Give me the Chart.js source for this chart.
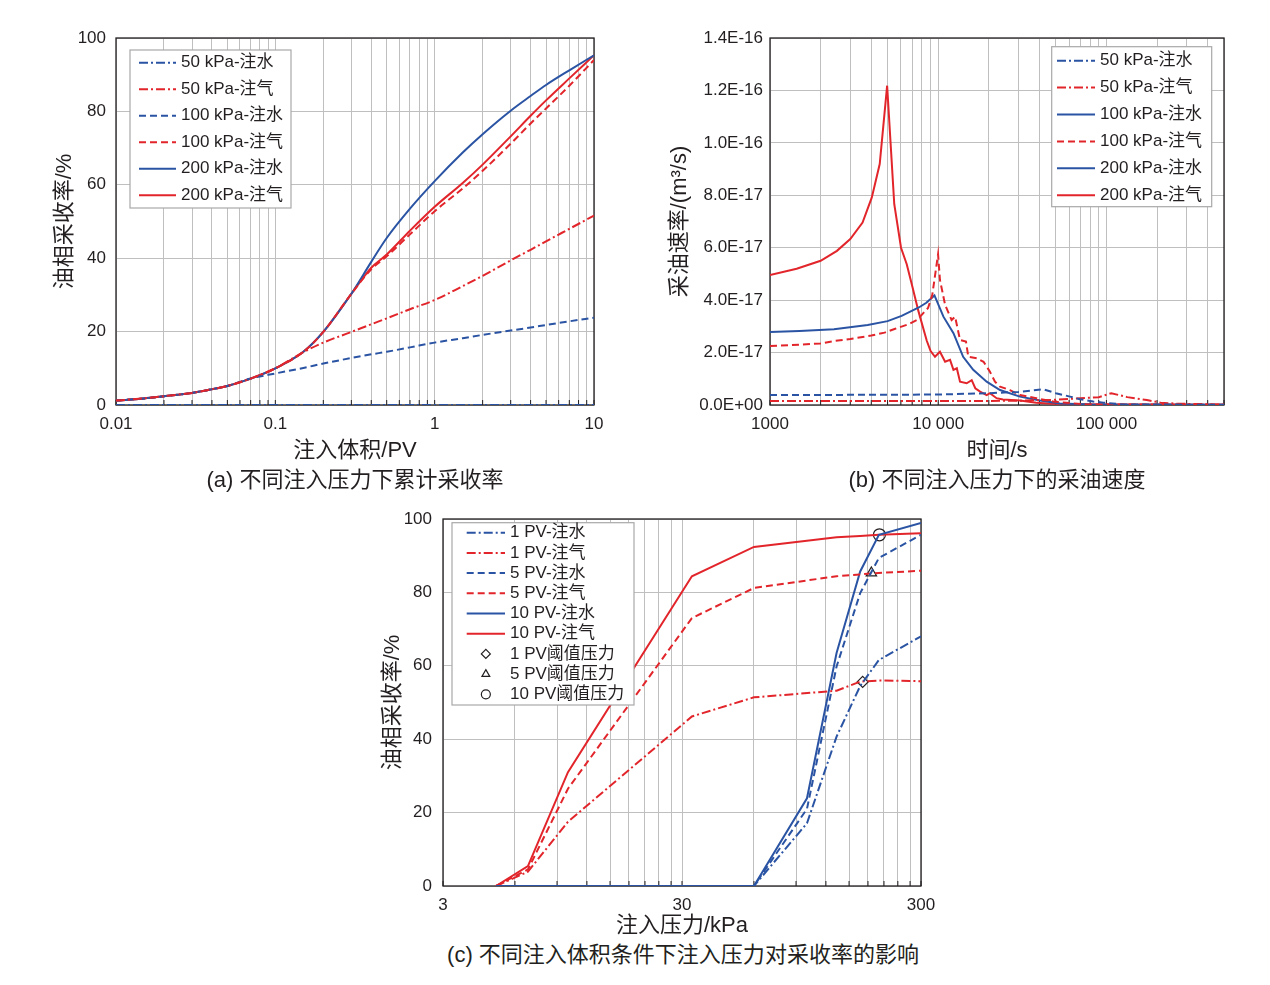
<!DOCTYPE html>
<html><head><meta charset="utf-8">
<script src="https://cdn.jsdelivr.net/npm/chart.js@4.4.1/dist/chart.umd.min.js"></script>
<style>
html,body{margin:0;padding:0;background:#fff;width:1270px;height:985px;overflow:hidden;position:relative;}
canvas{position:absolute;}
.cap{position:absolute;font-family:'Liberation Sans','Noto Sans CJK SC',sans-serif;font-size:22px;line-height:26px;color:#231f20;white-space:nowrap;transform:translateX(-50%);}
</style></head><body>
<canvas id="ca" width="640" height="470" style="left:0;top:0;width:640px;height:470px"></canvas>
<canvas id="cb" width="630" height="470" style="left:640px;top:0;width:630px;height:470px"></canvas>
<canvas id="cc" width="640" height="460" style="left:330px;top:480px;width:640px;height:460px"></canvas>
<div class="cap" style="left:355px;top:467px">(a) 不同注入压力下累计采收率</div>
<div class="cap" style="left:997px;top:467px">(b) 不同注入压力下的采油速度</div>
<div class="cap" style="left:683px;top:942px">(c) 不同注入体积条件下注入压力对采收率的影响</div>
<script>
// ---------- (a) cumulative recovery vs injected volume ----------
const pvA = [0.01, 0.015, 0.02, 0.03, 0.04, 0.05, 0.07, 0.1, 0.15, 0.2, 0.3, 0.4, 0.5, 0.7, 1, 1.5, 2, 3, 4, 5, 7, 10];
const recA_w50 = [0, 0, 0, 0, 0, 0, 0, 0, 0, 0, 0, 0, 0, 0, 0, 0, 0, 0, 0, 0, 0, 0];
const recA_g50 = [1.2, 1.8, 2.4, 3.3, 4.3, 5.2, 7.2, 10.0, 14.4, 17.0, 19.9, 22.0, 23.6, 26.1, 28.6, 32.4, 35.2, 39.4, 42.3, 44.6, 48.0, 51.6];
const recA_w100 = [1.2, 1.8, 2.4, 3.3, 4.3, 5.2, 7.2, 8.6, 10.1, 11.3, 12.8, 13.8, 14.5, 15.7, 17.0, 18.2, 19.1, 20.3, 21.1, 21.8, 22.8, 23.8];
const recA_g100 = [1.2, 1.8, 2.4, 3.3, 4.3, 5.2, 7.2, 10.0, 14.5, 19.9, 30.3, 37.0, 40.5, 46.5, 52.8, 59.0, 63.8, 71.2, 76.7, 80.8, 87.0, 94.0];
const recA_w200 = [1.2, 1.8, 2.4, 3.3, 4.3, 5.2, 7.2, 10.0, 14.5, 19.9, 30.3, 39.0, 45.5, 53.5, 61.0, 68.8, 73.8, 80.2, 84.2, 87.2, 91.2, 95.3];
const recA_g200 = [1.2, 1.8, 2.4, 3.3, 4.3, 5.2, 7.2, 10.0, 14.5, 19.9, 30.3, 37.4, 41.0, 47.5, 54.0, 60.5, 65.5, 73.2, 78.8, 83.0, 89.0, 95.3];
const decadesA = [0.01, 0.1, 1];
const tickValsA = [0.01, 0.1, 1, 10];
const tickTextA = ['0.01', '0.1', '1', '10'];
const yTicksA = [0, 20, 40, 60, 80, 100];

// ---------- (b) oil production rate vs time (values in 1E-17 m3/s) ----------
const RATE_UNIT = 1e-17;
const tB_w50 = [1000, 5000, 10000, 20000, 30000, 42200, 50000, 60700, 69600, 83500, 96000, 125000, 500000];
const rB_w50 = [0.38, 0.39, 0.40, 0.45, 0.50, 0.60, 0.45, 0.32, 0.22, 0.13, 0.09, 0.02, 0.01];
const tB_g50 = [1000, 10000, 30000, 50000, 70000, 90000, 107000, 133000, 174000, 210000, 260000, 500000];
const rB_g50 = [0.15, 0.15, 0.16, 0.20, 0.26, 0.30, 0.45, 0.30, 0.19, 0.09, 0.05, 0.02];
const tB_w100 = [];
const rB_w100 = [];
const tB_g100 = [1000, 1500, 2000, 2400, 3000, 4000, 4800, 5500, 6650, 7500, 8030, 8700, 9220, 9980, 10240, 10990, 12010, 12600, 13480, 14620, 15100, 17000, 18600, 20300, 21750, 23300, 26700, 30600, 38300, 48300, 76000, 500000];
const rB_g100 = [2.25, 2.30, 2.35, 2.44, 2.52, 2.65, 2.76, 2.90, 3.08, 3.25, 3.46, 3.70, 4.20, 5.75, 4.77, 3.82, 3.24, 3.37, 2.48, 2.42, 1.84, 1.78, 1.65, 1.27, 0.89, 0.70, 0.57, 0.38, 0.26, 0.13, 0.02, 0.01];
const tB_w200 = [1000, 1500, 2400, 3810, 5000, 6060, 7670, 8500, 9500, 10740, 12320, 14070, 16150, 19410, 23300, 30600, 40300, 52900, 82000, 500000];
const rB_w200 = [2.78, 2.82, 2.89, 3.05, 3.20, 3.40, 3.72, 3.90, 4.18, 3.37, 2.74, 1.84, 1.34, 0.89, 0.57, 0.32, 0.17, 0.06, 0.02, 0.01];
const tB_g200 = [1000, 1440, 2000, 2500, 3000, 3550, 4030, 4490, 4970, 5480, 6010, 6500, 6970, 7620, 8550, 9010, 9570, 10240, 10990, 11760, 12320, 12900, 13480, 14760, 15820, 16610, 17740, 19410, 20300, 22210, 24250, 30600, 38300, 48000, 70000, 150000, 500000];
const rB_g200 = [4.96, 5.20, 5.50, 5.88, 6.33, 6.96, 7.92, 9.19, 12.18, 7.66, 6.00, 5.37, 4.60, 3.59, 2.45, 2.06, 1.84, 2.03, 1.65, 1.72, 1.34, 1.40, 0.89, 0.83, 0.95, 0.64, 0.51, 0.38, 0.45, 0.26, 0.21, 0.17, 0.09, 0.05, 0.03, 0.02, 0.01];
const decadesB = [1000, 10000, 100000];
const tickValsB = [1000, 10000, 100000];
const tickTextB = ['1000', '10 000', '100 000'];
const yTicksB = [0, 2e-17, 4e-17, 6e-17, 8e-17, 1e-16, 1.2e-16, 1.4e-16];

// ---------- (c) recovery vs injection pressure ----------
const pC_gas = [5, 6.8, 10, 33, 60, 133, 167, 200, 300];
const recC_g1 = [0, 3.9, 17.5, 46.2, 51.4, 53.2, 55.7, 56.0, 55.8];
const recC_g5 = [0, 4.5, 26.5, 73.0, 81.2, 84.4, 84.9, 85.3, 85.9];
const recC_g10 = [0, 5.4, 31.0, 84.4, 92.4, 95.0, 95.4, 95.7, 96.1];
const pC_water = [5, 60, 100, 133, 167, 200, 300];
const recC_w1 = [0, 0, 17.1, 40.7, 54.5, 61.6, 68.0];
const recC_w5 = [0, 0, 21.0, 59.8, 79.8, 89.4, 95.7];
const recC_w10 = [0, 0, 23.9, 63.5, 85.7, 95.7, 98.9];
const thrC_p1 = [171], thrC_r1 = [55.6];
const thrC_p5 = [186], thrC_r5 = [85.3];
const thrC_p10 = [201], thrC_r10 = [95.7];
const decadesC = [3, 30];
const tickValsC = [3, 30, 300];
const tickTextC = ['3', '30', '300'];
const yTicksC = [0, 20, 40, 60, 80, 100];

// ---------- styling ----------
const FONT = "'Liberation Sans','Noto Sans CJK SC','Noto Sans',sans-serif";
const TXT = '#231f20';
const GRID = '#bfbfbf';
const BLUE = '#2a54a3';
const RED = '#e2252b';
const SOLID = [];
const DASH = [7, 4];
const DASHDOT = [9, 3, 2, 3];

const pts = (xs, ys, k) => xs.map((x, i) => ({x: x, y: ys[i] * (k || 1)}));

function logGrid(decades, max) {
  const g = [];
  decades.forEach(d => { for (let k = 1; k <= 9; k++) { if (k * d <= max * (1 + 1e-9)) g.push(k * d); } });
  if (!g.includes(max)) g.push(max);
  return g;
}

function logAxis(min, max, decades, vals, texts, title, o) {
  const lab = new Map(vals.map((v, i) => [v, texts[i]]));
  const grid = logGrid(decades, max);
  return {
    type: 'logarithmic', min: min, max: max,
    afterBuildTicks: ax => { ax.ticks = grid.map(v => ({value: v})); },
    afterFit: ax => { ax.height = o.h; },
    ticks: {autoSkip: false, maxRotation: 0, minRotation: 0, padding: o.pad, color: TXT,
      font: {family: FONT, size: 17}, callback: v => (lab.has(v) ? lab.get(v) : '')},
    grid: {color: GRID, lineWidth: 1, drawTicks: false},
    border: {display: false},
    title: {display: true, text: title, color: TXT, font: {family: FONT, size: 22}, padding: {top: 0, bottom: o.tpb}}
  };
}

function linAxis(min, max, vals, fmt, title, o) {
  return {
    type: 'linear', min: min, max: max,
    afterBuildTicks: ax => { ax.ticks = vals.map(v => ({value: v})); },
    afterFit: ax => { ax.width = o.w; },
    ticks: {padding: o.pad, color: TXT, font: {family: FONT, size: 17}, callback: fmt},
    grid: {color: GRID, lineWidth: 1, drawTicks: false},
    border: {display: false},
    title: {display: true, text: title, color: TXT, font: {family: FONT, size: 22}, padding: {top: o.tpt, bottom: 0}}
  };
}

function sci(v) {
  if (v === 0) return '0.0E+00';
  const e = Math.floor(Math.log10(v) + 1e-9);
  const m = v / Math.pow(10, e);
  return m.toFixed(1) + 'E' + (e < 0 ? '-' : '+') + String(Math.abs(e)).padStart(2, '0');
}

const framePlugin = {
  id: 'frame',
  beforeDatasetsDraw(chart) {
    const ctx = chart.ctx, a = chart.chartArea, sx = chart.scales.x;
    ctx.save();
    ctx.strokeStyle = TXT;
    ctx.lineWidth = 1.3;
    ctx.strokeRect(a.left, a.top, a.right - a.left, a.bottom - a.top);
    ctx.lineWidth = 1;
    sx.ticks.forEach(t => {
      const px = sx.getPixelForValue(t.value);
      ctx.beginPath(); ctx.moveTo(px, a.bottom); ctx.lineTo(px, a.bottom - 5); ctx.stroke();
    });
    ctx.restore();
  }
};

function boxLegend(cfg) {
  return {
    id: 'boxLegend',
    afterDatasetsDraw(chart) {
      const ctx = chart.ctx;
      const b = cfg.box;
      ctx.save();
      ctx.fillStyle = '#ffffff';
      ctx.strokeStyle = '#a8a8a8';
      ctx.lineWidth = 1.2;
      ctx.fillRect(b[0], b[1], b[2] - b[0], b[3] - b[1]);
      ctx.strokeRect(b[0], b[1], b[2] - b[0], b[3] - b[1]);
      ctx.font = '17px ' + FONT;
      ctx.textBaseline = 'middle';
      ctx.textAlign = 'left';
      chart.data.datasets.forEach((ds, i) => {
        const y = cfg.y0 + i * cfg.dy;
        if (ds.showLine === false) {
          ctx.setLineDash([]);
          ctx.strokeStyle = ds.pointBorderColor;
          ctx.fillStyle = 'rgba(255,255,255,0)';
          ctx.lineWidth = 1.2;
          Chart.helpers.drawPoint(ctx, {pointStyle: ds.pointStyle, radius: cfg.mr, borderWidth: 1.2, rotation: 0},
            (cfg.lx0 + cfg.lx1) / 2, y);
        } else {
          ctx.setLineDash(ds.legendDash || ds.borderDash || []);
          ctx.strokeStyle = ds.borderColor;
          ctx.lineWidth = 2;
          ctx.beginPath(); ctx.moveTo(cfg.lx0, y); ctx.lineTo(cfg.lx1, y); ctx.stroke();
        }
        ctx.setLineDash([]);
        ctx.fillStyle = TXT;
        ctx.fillText(ds.label, cfg.tx, y);
      });
      ctx.restore();
    }
  };
}

function baseOptions(padding, x, y) {
  return {
    responsive: false,
    animation: false,
    layout: {padding: padding},
    scales: {x: x, y: y},
    plugins: {legend: {display: false}, tooltip: {enabled: false}},
    elements: {point: {radius: 0, hoverRadius: 0}, line: {borderWidth: 2, fill: false}}
  };
}

function lineDs(label, data, color, dash, extra) {
  return Object.assign({label: label, data: data, borderColor: color, backgroundColor: color,
    borderDash: dash, borderWidth: 2, pointRadius: 0, fill: false}, extra || {});
}

// ---- chart (a)
const smooth = {cubicInterpolationMode: 'monotone'};
new Chart(document.getElementById('ca'), {
  type: 'line',
  data: {datasets: [
    lineDs('50 kPa-注水', pts(pvA, recA_w50), BLUE, DASHDOT, smooth),
    lineDs('50 kPa-注气', pts(pvA, recA_g50), RED, DASHDOT, smooth),
    lineDs('100 kPa-注水', pts(pvA, recA_w100), BLUE, DASH, smooth),
    lineDs('100 kPa-注气', pts(pvA, recA_g100), RED, DASH, smooth),
    lineDs('200 kPa-注水', pts(pvA, recA_w200), BLUE, SOLID, smooth),
    lineDs('200 kPa-注气', pts(pvA, recA_g200), RED, SOLID, smooth)
  ]},
  options: baseOptions({left: 0, top: 38, right: 46, bottom: 0},
    logAxis(0.01, 10, decadesA, tickValsA, tickTextA, '注入体积/PV', {h: 65, pad: 9, tpb: 5.8}),
    linAxis(0, 100, yTicksA, v => String(v), '油相采收率/%', {w: 116, pad: 10, tpt: 52})),
  plugins: [framePlugin, boxLegend({box: [130, 50, 291, 208], y0: 62.7, dy: 26.5, lx0: 139, lx1: 176, tx: 181, mr: 4.5})]
});

// ---- chart (b)
new Chart(document.getElementById('cb'), {
  type: 'line',
  data: {datasets: [
    lineDs('50 kPa-注水', pts(tB_w50, rB_w50, RATE_UNIT), BLUE, DASH, {legendDash: DASHDOT}),
    lineDs('50 kPa-注气', pts(tB_g50, rB_g50, RATE_UNIT), RED, DASHDOT),
    lineDs('100 kPa-注水', pts(tB_w100, rB_w100, RATE_UNIT), BLUE, SOLID),
    lineDs('100 kPa-注气', pts(tB_g100, rB_g100, RATE_UNIT), RED, DASH),
    lineDs('200 kPa-注水', pts(tB_w200, rB_w200, RATE_UNIT), BLUE, SOLID),
    lineDs('200 kPa-注气', pts(tB_g200, rB_g200, RATE_UNIT), RED, SOLID)
  ]},
  options: baseOptions({left: 0, top: 38, right: 46, bottom: 0},
    logAxis(1000, 500000, decadesB, tickValsB, tickTextB, '时间/s', {h: 65, pad: 9, tpb: 5.8}),
    linAxis(0, 1.4e-16, yTicksB, v => sci(v), '采油速率/(m³/s)', {w: 130, pad: 7, tpt: 27})),
  plugins: [framePlugin, boxLegend({box: [411.7, 46.7, 571.7, 206.7], y0: 60.7, dy: 26.9, lx0: 417, lx1: 455, tx: 460, mr: 4.5})]
});

// ---- chart (c)
const marker = (style, r) => ({showLine: false, pointStyle: style, pointRadius: r, pointHoverRadius: r,
  pointBorderColor: TXT, pointBackgroundColor: 'rgba(255,255,255,0)', pointBorderWidth: 1.2});
new Chart(document.getElementById('cc'), {
  type: 'line',
  data: {datasets: [
    lineDs('1 PV-注水', pts(pC_water, recC_w1), BLUE, DASHDOT),
    lineDs('1 PV-注气', pts(pC_gas, recC_g1), RED, DASHDOT),
    lineDs('5 PV-注水', pts(pC_water, recC_w5), BLUE, DASH),
    lineDs('5 PV-注气', pts(pC_gas, recC_g5), RED, DASH),
    lineDs('10 PV-注水', pts(pC_water, recC_w10), BLUE, SOLID),
    lineDs('10 PV-注气', pts(pC_gas, recC_g10), RED, SOLID),
    lineDs('1 PV阈值压力', pts(thrC_p1, thrC_r1), TXT, SOLID, marker('rectRot', 5.5)),
    lineDs('5 PV阈值压力', pts(thrC_p5, thrC_r5), TXT, SOLID, marker('triangle', 6)),
    lineDs('10 PV阈值压力', pts(thrC_p10, thrC_r10), TXT, SOLID, marker('circle', 6))
  ]},
  options: baseOptions({left: 0, top: 39, right: 49, bottom: 0},
    logAxis(3, 300, decadesC, tickValsC, tickTextC, '注入压力/kPa', {h: 54, pad: 9, tpb: 0.8}),
    linAxis(0, 100, yTicksC, v => String(v), '油相采收率/%', {w: 113, pad: 11, tpt: 50})),
  plugins: [framePlugin, boxLegend({box: [122, 42.7, 304, 225], y0: 52.7, dy: 20.2, lx0: 136.7, lx1: 175, tx: 180, mr: 4.5})]
});
</script>
</body></html>
